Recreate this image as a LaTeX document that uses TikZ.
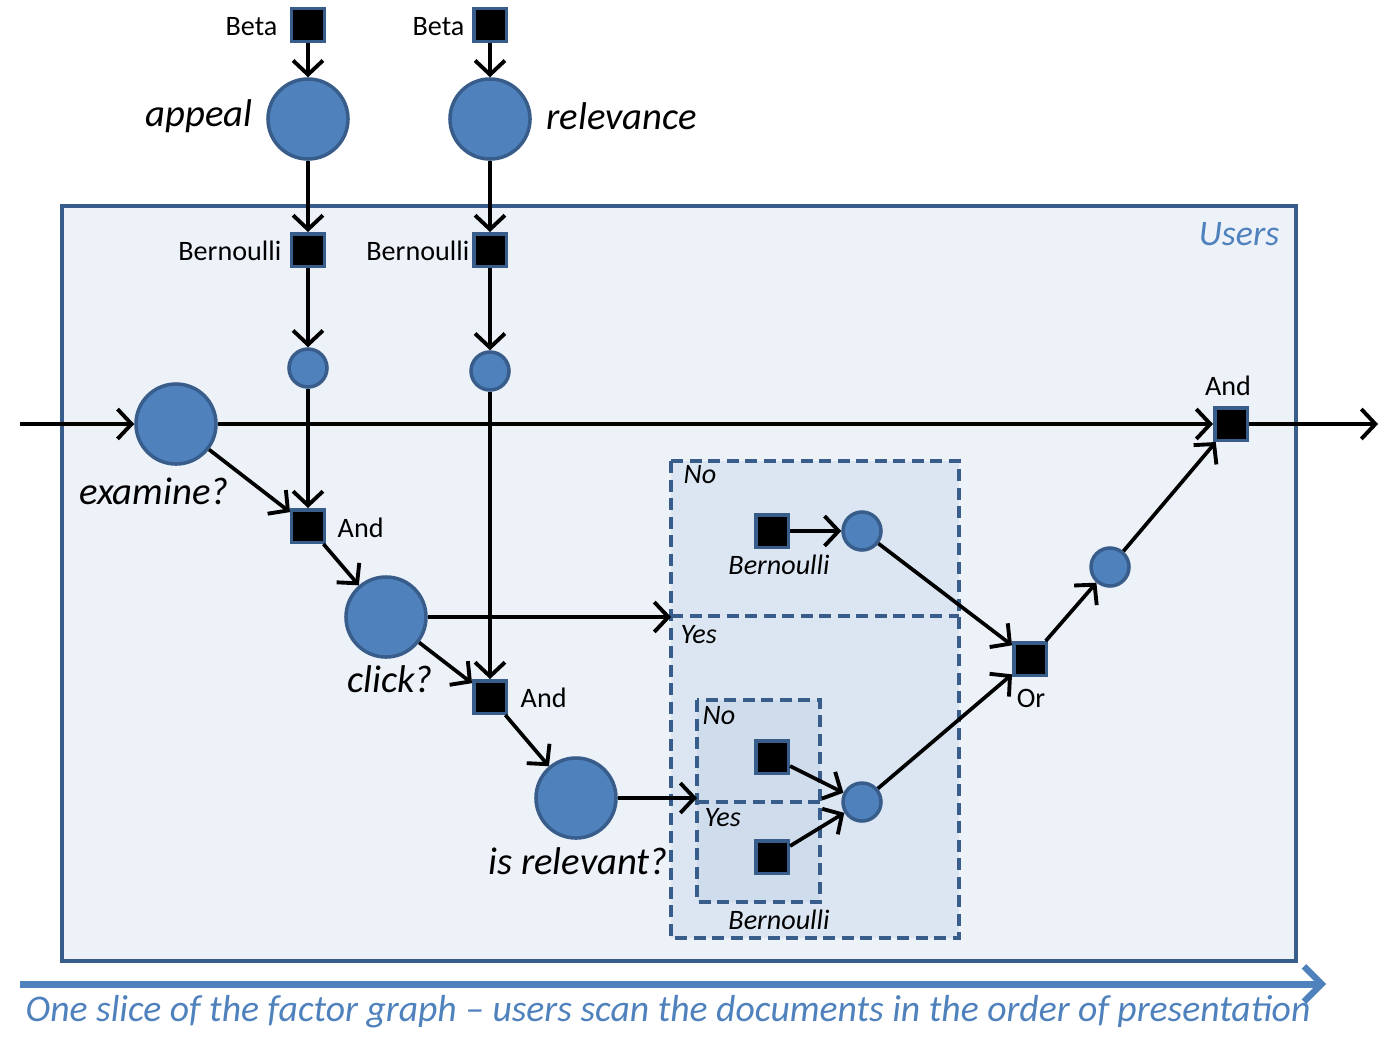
\documentclass[tikz,border=0pt]{standalone}
\usepackage{fontspec}
\setmainfont{Carlito}
\usetikzlibrary{arrows.meta}
\definecolor{nodeblue}{HTML}{4F81BD}
\definecolor{edgeblue}{HTML}{385D8A}
\definecolor{usersfill}{HTML}{EDF2F9}
\definecolor{dashfill}{HTML}{DCE6F2}
\definecolor{innerfill}{HTML}{CFDCEC}
\tikzset{
  varbig/.style={circle,fill=nodeblue,draw=edgeblue,line width=0.035cm,minimum size=0.8cm,inner sep=0pt},
  varsmall/.style={circle,fill=nodeblue,draw=edgeblue,line width=0.035cm,minimum size=0.38cm,inner sep=0pt},
  factor/.style={rectangle,fill=black,draw=edgeblue,line width=0.035cm,minimum size=0.325cm,inner sep=0pt},
  conn/.style={line width=0.037cm,-{Straight Barb[length=4pt,width=8.5pt,line width=1.1pt]}},
  plain/.style={font=\fontsize{8}{9}\selectfont,inner sep=0pt},
  bigit/.style={font=\fontsize{11}{13}\selectfont\itshape,inner sep=0pt},
  smallit/.style={font=\fontsize{8}{9}\selectfont\itshape,inner sep=0pt},
  dashbox/.style={draw=edgeblue,line width=0.038cm,dash pattern=on 0.12cm off 0.065cm},
}
\begin{document}
\begin{tikzpicture}[x=0.01cm,y=-0.01cm]
\useasboundingbox (0,0) rectangle (1398,1054);
% Users plate
\draw[fill=usersfill,draw=edgeblue,line width=0.04cm] (62,206) rectangle (1296,961);
\node[font=\fontsize{10.2}{12}\selectfont\itshape,text=nodeblue,anchor=east,inner sep=0pt] (users) at (1280,234) {Users};
% gate boxes
\path[fill=dashfill] (671,461) rectangle (959,938);
\draw[dashbox] (671,461) rectangle (959,938);
\draw[dashbox] (671,616) -- (959,616);
\path[fill=innerfill] (697,700) rectangle (820,902);
\draw[dashbox] (697,700) rectangle (820,902);
\draw[dashbox] (697,802) -- (820,802);
\node[smallit,anchor=west] (no1) at (683,475) {No};
\node[smallit,anchor=west] (yes1) at (680,635) {Yes};
\node[smallit,anchor=west] (no2) at (702,716) {No};
\node[smallit,anchor=west] (yes2) at (704,818) {Yes};
\node[smallit] (bl1) at (779,565) {Bernoulli};
\node[smallit] (bl2) at (779,920) {Bernoulli};
% nodes
\node[factor] (betaA) at (308,25) {};
\node[factor] (betaR) at (490,25) {};
\node[plain,anchor=east] (betaAl) at (278,27) {Beta};
\node[plain,anchor=east] (betaRl) at (465,27) {Beta};
\node[varbig] (appeal) at (308,119) {};
\node[varbig] (relev) at (490,119) {};
\node[bigit,anchor=east] (appealL) at (253,116) {appeal};
\node[bigit,anchor=west] (relevL) at (546,116) {relevance};
\node[factor] (bernA) at (308,250) {};
\node[factor] (bernR) at (490,250) {};
\node[plain,anchor=east] (bernAl) at (282,251) {Bernoulli};
\node[plain,anchor=east] (bernRl) at (470,251) {Bernoulli};
\node[varsmall] (sA) at (308,368) {};
\node[varsmall] (sR) at (490,371) {};
\node[varbig] (exam) at (176,424) {};
\node[bigit] (examL) at (154,491) {examine?};
\node[factor] (and1) at (308,526) {};
\node[plain,anchor=west] (and1l) at (337,528) {And};
\node[varbig] (click) at (386,617) {};
\node[bigit] (clickL) at (390,679) {click?};
\node[factor] (and2) at (490,697) {};
\node[plain,anchor=west] (and2l) at (520,698) {And};
\node[varbig] (isrel) at (576,798) {};
\node[bigit] (isrelL) at (578,861) {is relevant?};
\node[factor] (andT) at (1231,424) {};
\node[plain] (andTl) at (1228,386) {And};
\node[factor] (bnNo) at (772,531) {};
\node[varsmall] (c1) at (862,531) {};
\node[factor] (bNo) at (772,757) {};
\node[factor] (bYes) at (772,857) {};
\node[varsmall] (c2) at (862,802) {};
\node[factor] (or) at (1030,659) {};
\node[plain] (orl) at (1031,698) {Or};
\node[varsmall] (c3) at (1110,567) {};
\coordinate (inL) at (20,424);
\coordinate (outR) at (1378,424);
\coordinate (gateA) at (671,617);
\coordinate (gateB) at (697,798);
% connectors
\draw[conn] (betaA) -- (appeal);
\draw[conn] (betaR) -- (relev);
\draw[conn] (appeal) -- (bernA);
\draw[conn] (relev) -- (bernR);
\draw[conn] (bernA) -- (sA);
\draw[conn] (bernR) -- (sR);
\draw[conn] (sA) -- (and1);
\draw[conn] (sR) -- (and2);
\draw[conn] (inL) -- (exam);
\draw[conn] (exam) -- (andT);
\draw[conn] (andT) -- (outR);
\draw[conn] (exam) -- (and1);
\draw[conn] (and1) -- (click);
\draw[conn] (click) -- (gateA);
\draw[conn] (click) -- (and2);
\draw[conn] (and2) -- (isrel);
\draw[conn] (isrel) -- (gateB);
\draw[conn] (bnNo) -- (c1);
\draw[conn] (c1) -- (or);
\draw[conn] (bNo) -- (c2);
\draw[conn] (bYes) -- (c2);
\draw[conn] (c2) -- (or);
\draw[conn] (or) -- (c3);
\draw[conn] (c3) -- (andT);
% bottom arrow and caption
\coordinate (bl) at (20,984);
\coordinate (br) at (1326,984);
\draw[nodeblue,line width=0.07cm,-{Straight Barb[length=5pt,width=10pt,line width=1.8pt]}] (bl) -- (br);
\node[anchor=base west,inner sep=0pt,text=nodeblue,font=\fontsize{10.7}{12}\selectfont\itshape] (cap) at (25,1021) {One slice of the factor graph -- users scan the documents in the order of presentation};
\end{tikzpicture}
\end{document}
